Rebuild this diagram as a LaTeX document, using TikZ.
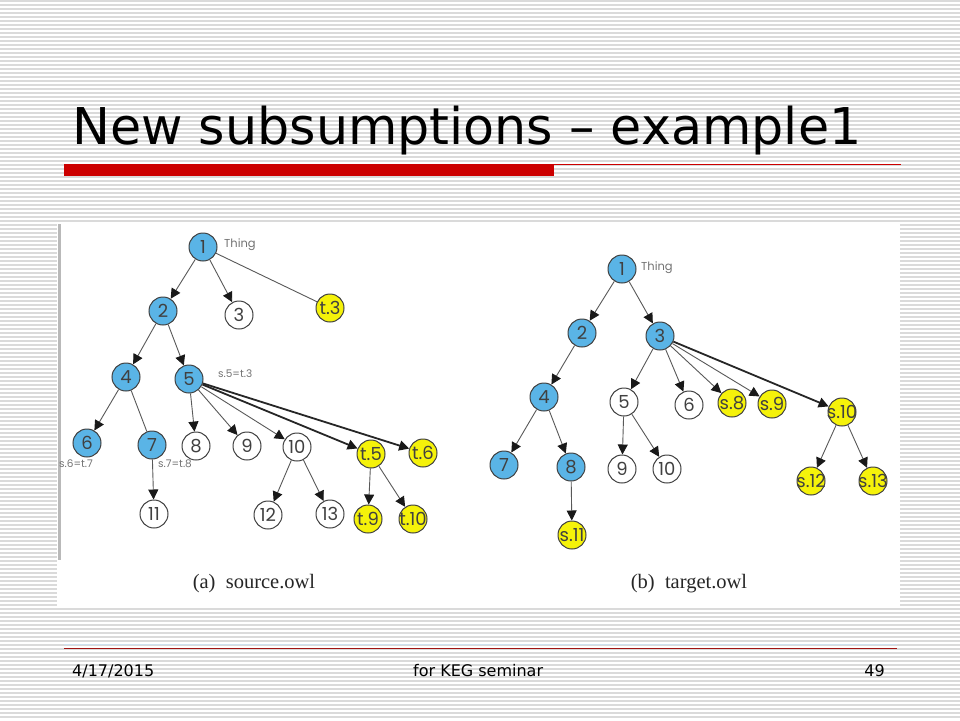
\documentclass[tikz,border=0pt]{standalone}
\usepackage{fontspec}
\setmainfont{DejaVu Sans}
\newfontfamily\nodefont{Poppins}
\newfontfamily\capfont{Liberation Serif}
\usetikzlibrary{arrows.meta}
\newcommand\zw[1]{\makebox[0pt]{#1}}
\definecolor{nblue}{RGB}{90,180,230}
\definecolor{nyellow}{RGB}{245,242,10}
\definecolor{stripec}{RGB}{218,218,218}
\definecolor{barred}{RGB}{204,0,0}
\definecolor{darkred}{RGB}{160,20,20}
\definecolor{paleblue}{RGB}{205,225,240}
\tikzset{
  nd/.style={circle, draw=black!75, line width=1pt, minimum size=28pt, inner sep=0pt,
    font=\nodefont\fontsize{18}{18}\selectfont, text=black!75},
  bl/.style={nd, fill=nblue},
  yl/.style={nd, fill=nyellow},
  wh/.style={nd, fill=white},
  ar/.style={draw=black!65, line width=0.9pt, -{Triangle[length=10pt,width=10pt,color=black!90]}},
  ln/.style={draw=black!65, line width=0.9pt},
  thk/.style={draw=black!85, line width=1.8pt, -{Triangle[length=10pt,width=10pt,color=black!90]}},
  lab/.style={font=\nodefont\fontsize{11.5}{11.5}\selectfont, text=black!55, inner sep=0pt},
  slab/.style={font=\nodefont\fontsize{10.5}{10.5}\selectfont, text=black!55, inner sep=0pt},
  captxt/.style={font=\capfont\fontsize{20.5}{20.5}\selectfont, text=black!85, inner sep=0pt},
  foot/.style={font=\fontsize{16}{16}\selectfont, text=black, inner sep=0pt, anchor=base west},
  stripe/.style={draw=stripec, line width=1.3pt}
}
\begin{document}
\begin{tikzpicture}[x=1pt,y=-1pt]
\useasboundingbox (0,0) rectangle (960,720);
\fill[white] (0,0) rectangle (960,720);
\foreach \yy in {1,5,...,717} \draw[stripe] (0,\yy) -- (960,\yy);
% picture area
\fill[white] (57,223) rectangle (900,608);
\fill[gray!55] (58,224) rectangle (61,560);
% title
\node[anchor=base west, inner sep=0pt, font=\fontsize{50.7}{50.7}\selectfont] (title) at (72,144) {New subsumptions – example1};
\fill[barred] (64,164) rectangle (554,176);
\fill[barred] (554,164) rectangle (901,165.2);
% footer
\fill[paleblue] (64,643.5) rectangle (897,644.5);
\fill[darkred] (64,647.5) rectangle (897,649);
\node[foot] (date) at (72,676) {4/17/2015};
\node[foot] (sem) at (413,676) {for KEG seminar};
\node[foot, anchor=base east] (pg) at (885,676) {49};

% ---------- (a) source.owl ----------
\node[bl] (a1) at (203,247) {\zw{1}};
\node[bl] (a2) at (163,311) {\zw{2}};
\node[wh] (a3) at (239,315) {\zw{3}};
\node[yl] (at3) at (330,308) {\zw{t.3}};
\node[bl] (a4) at (126,377) {\zw{4}};
\node[bl] (a5) at (189,379) {\zw{5}};
\node[bl] (a6) at (87,443) {\zw{6}};
\node[bl] (a7) at (152,445) {\zw{7}};
\node[wh] (a8) at (196,446) {\zw{8}};
\node[wh] (a9) at (247,446) {\zw{9}};
\node[wh] (a10) at (297,447) {\zw{10}};
\node[yl] (at5) at (371,454) {\zw{t.5}};
\node[yl] (at6) at (423,453) {\zw{t.6}};
\node[wh] (a11) at (154,514) {\zw{11}};
\node[wh] (a12) at (268,515) {\zw{12}};
\node[wh] (a13) at (330,514) {\zw{13}};
\node[yl] (at9) at (368,519) {\zw{t.9}};
\node[yl] (at10) at (413,519) {\zw{t.10}};
\node[lab, anchor=west] (athing) at (224,245) {Thing};
\node[slab, anchor=west] (aeq5) at (218,374) {s.5=t.3};
\node[slab] (aeq6) at (76,464) {s.6=t.7};
\node[slab] (aeq7) at (175,464) {s.7=t.8};
\node[captxt] (capa) at (254,584) {(a)\ \ source.owl};

\draw[ar] (a1) -- (a2);
\draw[ar] (a1) -- (a3);
\draw[ln] (a1) -- (at3);
\draw[ar] (a2) -- (a4);
\draw[ar] (a2) -- (a5);
\draw[ar] (a4) -- (a6);
\draw[ln] (a4) -- (a7);
\draw[ar] (a5) -- (a8);
\draw[ar] (a5) -- (a9);
\draw[ar] (a5) -- (a10);
\draw[thk] (a5) -- (at5);
\draw[thk] (a5) -- (at6);
\draw[ar] (a7) -- (a11);
\draw[ar] (a10) -- (a12);
\draw[ar] (a10) -- (a13);
\draw[ar] (at5) -- (at9);
\draw[ar] (at5) -- (at10);

% ---------- (b) target.owl ----------
\node[bl] (b1) at (622,269) {\zw{1}};
\node[bl] (b2) at (582,333) {\zw{2}};
\node[bl] (b3) at (660,336) {\zw{3}};
\node[bl] (b4) at (544,397) {\zw{4}};
\node[wh] (b5) at (624,402) {\zw{5}};
\node[wh] (b6) at (689,405) {\zw{6}};
\node[yl] (bs8) at (732,403) {\zw{s.8}};
\node[yl] (bs9) at (772,404) {\zw{s.9}};
\node[yl] (bs10) at (842,412) {\zw{s.10}};
\node[bl] (b7) at (504,465) {\zw{7}};
\node[bl] (b8) at (571,467) {\zw{8}};
\node[wh] (b9) at (622,469) {\zw{9}};
\node[wh] (b10) at (667,469) {\zw{10}};
\node[yl] (bs12) at (811,481) {\zw{s.12}};
\node[yl] (bs13) at (873,481) {\zw{s.13}};
\node[yl] (bs11) at (572,535) {\zw{s.11}};
\node[lab, anchor=west] (bthing) at (641,268) {Thing};
\node[captxt] (capb) at (689,584) {(b)\ \ target.owl};

\draw[ar] (b1) -- (b2);
\draw[ar] (b1) -- (b3);
\draw[ar] (b2) -- (b4);
\draw[ar] (b3) -- (b5);
\draw[ar] (b3) -- (b6);
\draw[ar] (b3) -- (bs8);
\draw[ar] (b3) -- (bs9);
\draw[thk] (b3) -- (bs10);
\draw[ar] (b4) -- (b7);
\draw[ar] (b4) -- (b8);
\draw[ar] (b5) -- (b9);
\draw[ar] (b5) -- (b10);
\draw[ar] (b8) -- (bs11);
\draw[ar] (bs10) -- (bs12);
\draw[ar] (bs10) -- (bs13);
\end{tikzpicture}
\end{document}
